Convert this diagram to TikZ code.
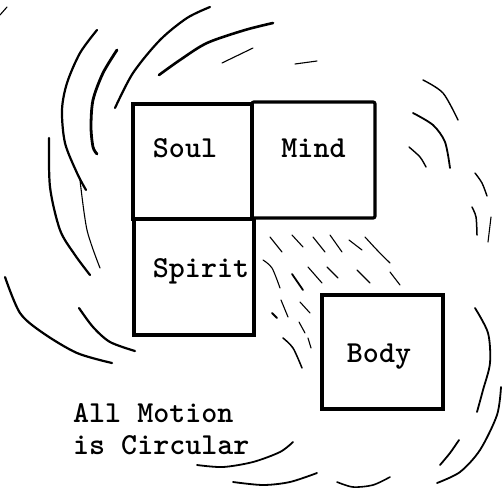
\documentclass[tikz,border=0pt]{standalone}
\usepackage{tikz}
\usetikzlibrary{positioning,calc}

\begin{document}
\begin{tikzpicture}[x=1pt,y=-1pt]
  % Styles local to this figure.
  \tikzset{
    part/.style={draw,line width=3.2pt,inner sep=0pt},
    word/.style={font=\ttfamily\bfseries\fontsize{30.5}{32}\selectfont,inner sep=0pt,anchor=base},
    swirl/.style={line width=2.2pt,line cap=round},
    thinswirl/.style={line width=1.1pt,line cap=round},
    hatch/.style={line width=1.1pt,line cap=round}
  }
  \useasboundingbox (0,0) rectangle (503,493);

  % The four parts.
  \node[part,minimum width=119pt,minimum height=115pt] (soul) at (192.5,161.5) {};
  \node[part,rounded corners=2pt,minimum width=123pt,minimum height=116pt] (mind) at (313.5,160) {};
  \node[part,minimum width=120pt,minimum height=116pt] (spirit) at (194,277) {};
  \node[part,minimum width=121pt,minimum height=114pt] (body) at (382.5,352) {};

  \node[word] (soultxt) at (185,157) {Soul};
  \node[word] (mindtxt) at (313.5,157) {Mind};
  \node[word] (spirittxt) at (201,277) {Spirit};
  \node[word] (bodytxt) at (379,362) {Body};
  \node[word,anchor=north west,align=left] (motion) at (73,403) {All Motion\\is Circular};

  % Swirls, upper left.
  \draw[thinswirl] plot[smooth] coordinates {(0,15) (7,7)};
  \draw[swirl] plot[smooth] coordinates {(97,30) (80,53) (67,83) (62,110) (65,143) (77,173) (86,190)};
  \draw[swirl,line width=2.8pt] plot[smooth] coordinates {(117,50) (103,73) (93,100) (91,127) (93,147) (97,154)};
  \draw[swirl] plot[smooth] coordinates {(210,7) (187,18) (160,40) (133,73) (115,108)};
  \draw[swirl,line width=2.6pt] plot[smooth] coordinates {(273,23) (245,30) (207,43) (180,60) (159,75)};
  \draw[thinswirl] plot[smooth] coordinates {(253,48) (222,63)};
  \draw[thinswirl] plot[smooth] coordinates {(317,61) (295,64)};

  % Swirls, left and lower left.
  \draw[swirl] plot[smooth] coordinates {(49,138) (50,187) (60,230) (75,255) (90,275)};
  \draw[thinswirl] plot[smooth] coordinates {(80,180) (87,230) (100,268)};
  \draw[swirl] plot[smooth] coordinates {(5,277) (20,313) (43,333) (77,353) (112,363)};
  \draw[swirl] plot[smooth] coordinates {(79,308) (93,327) (110,342) (135,351)};

  % Swirls, right.
  \draw[thinswirl,line width=1.4pt] plot[smooth] coordinates {(423,80) (443,93) (458,120)};
  \draw[swirl,line width=1.8pt] plot[smooth] coordinates {(413,113) (433,125) (445,142) (450,168)};
  \draw[thinswirl,line width=1.4pt] plot[smooth] coordinates {(409,147) (420,157) (426,167)};
  \draw[thinswirl,line width=1.4pt] plot[smooth] coordinates {(475,173) (482,183) (487,196)};
  \draw[thinswirl,line width=1.5pt] plot[smooth] coordinates {(472,207) (476,217) (477,235)};
  \draw[thinswirl] plot[smooth] coordinates {(491,217) (488,242)};
  \draw[swirl,line width=1.8pt] plot[smooth] coordinates {(475,308) (488,333) (490,363) (483,390) (477,412)};

  % Swirls, lower right and bottom.
  \draw[swirl,line width=1.8pt] plot[smooth] coordinates {(501,387) (497,415) (480,450) (460,472) (437,483)};
  \draw[swirl,line width=1.8pt] plot[smooth] coordinates {(459,440) (450,453) (440,465)};
  \draw[swirl,line width=1.8pt] plot[smooth] coordinates {(293,442) (280,452) (253,462) (223,467) (197,465)};
  \draw[swirl,line width=1.8pt] plot[smooth] coordinates {(317,473) (290,482) (263,485) (233,482)};
  \draw[swirl,line width=1.6pt] plot[smooth] coordinates {(390,477) (373,485) (353,487) (337,482)};

  % Hatching between the parts and the body.
  \draw[hatch] (270,237) -- (282,252);
  \draw[hatch] (292,235) -- (303,247);
  \draw[hatch] (313,237) -- (325,252);
  \draw[hatch] (330,235) -- (342,252);
  \draw[hatch] (349,240) -- (362,250);
  \draw[hatch] plot[smooth] coordinates {(365,237) (377,250) (390,263)};
  \draw[hatch] plot[smooth] coordinates {(263,260) (272,268) (280,288)};
  \draw[hatch,line width=1.8pt] (292,274) -- (303,290);
  \draw[hatch] (308,267) -- (322,283);
  \draw[hatch] (327,267) -- (338,278);
  \draw[hatch] (357,270) -- (370,283);
  \draw[hatch] (390,272) -- (400,285);
  \draw[hatch] (281,300) -- (288,317);
  \draw[hatch] (300,302) -- (310,313);
  \draw[hatch,line width=2pt] (272,313) -- (277,318);
  \draw[hatch] (299,322) -- (305,333);
  \draw[hatch] (308,338) -- (311,348);
  \draw[hatch,line width=1.5pt] plot[smooth] coordinates {(283,338) (293,348) (302,368)};
\end{tikzpicture}
\end{document}
